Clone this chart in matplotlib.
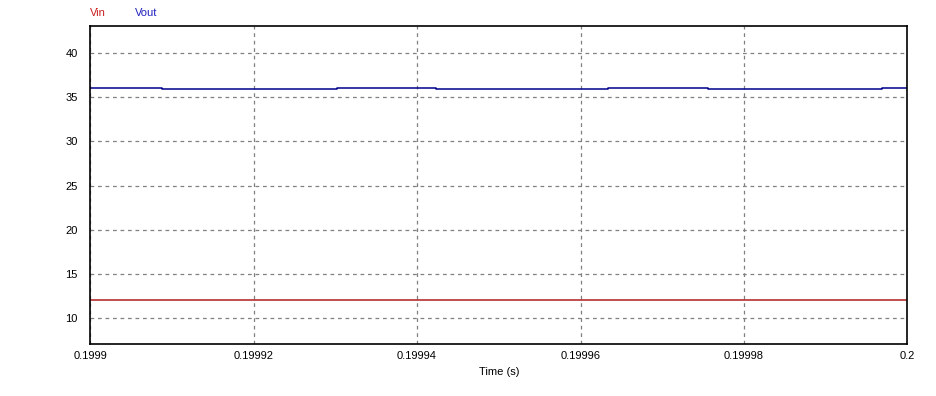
import matplotlib
matplotlib.use("Agg")
import matplotlib.pyplot as plt

plt.rcParams['font.family'] = ['Liberation Sans', 'DejaVu Sans']

# Vout step levels (switch times in s, value held until next time)
t_vout = [0.1999, 0.19990878, 0.19992130, 0.19992607, 0.19993023, 0.19994235,
          0.19995483, 0.19995949, 0.19996340, 0.19997564, 0.19998837,
          0.19999266, 0.19999694, 0.2]
v_vout = [36.1, 36.0, 35.9, 36.0, 36.1, 36.0,
          35.9, 36.0, 36.1, 36.0, 35.9,
          36.0, 36.1, 36.1]

t_vin = [0.1999, 0.2]
v_vin = [12.0, 12.0]

x_ticks = [0.1999, 0.19992, 0.19994, 0.19996, 0.19998, 0.2]
x_labels = ["0.1999", "0.19992", "0.19994", "0.19996", "0.19998", "0.2"]
y_ticks = [10, 15, 20, 25, 30, 35, 40]

fig = plt.figure(figsize=(9.37, 3.96), dpi=100)
ax = fig.add_axes([0.0961, 0.1313, 0.8724, 0.8023])

ax.plot(t_vin, v_vin, color='#b01c1c', lw=1.1)
ax.plot(t_vout, v_vout, color='#00008c', lw=1.1, drawstyle='steps-post')

ax.set_xlim(0.1999, 0.2)
ax.set_ylim(7.05, 43.05)
ax.set_xticks(x_ticks)
ax.set_xticklabels(x_labels)
ax.set_yticks(y_ticks)
ax.tick_params(length=0, labelsize=8, pad=5)
ax.tick_params(axis='y', pad=9)
ax.grid(True, color='#808080', ls=(0, (3, 3)), lw=0.9)
for s in ax.spines.values():
    s.set_linewidth(1.2)
ax.set_xlabel("Time (s)", fontsize=8, labelpad=4)

fig.text(90 / 937, 1 - 13 / 396, "Vin", color='#cc2020', fontsize=8, va='center')
fig.text(135 / 937, 1 - 13 / 396, "Vout", color='#2020c0', fontsize=8, va='center')

fig.savefig("out.png", dpi=100)
